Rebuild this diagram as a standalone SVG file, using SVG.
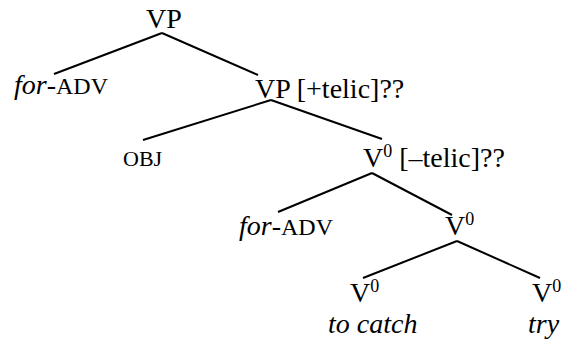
<svg xmlns="http://www.w3.org/2000/svg" width="563" height="347" viewBox="0 0 563 347">
<style>
text{font-family:"Liberation Serif","Times New Roman",serif;fill:#000;font-size:28px}
.sc{font-size:22px}
.adv{font-size:24px}
.it{font-style:italic}
.sup{font-size:18px}
#edges line{stroke:#000;stroke-width:2;stroke-linecap:butt}
</style>
<rect width="563" height="347" fill="#fff"/>
<g id="edges">
<line x1="162" y1="33" x2="54" y2="74"/>
<line x1="162" y1="33" x2="258" y2="75"/>
<line x1="271" y1="100" x2="143" y2="140"/>
<line x1="271" y1="100" x2="382" y2="139"/>
<line x1="372" y1="173" x2="278" y2="212"/>
<line x1="372" y1="173" x2="452" y2="215"/>
<line x1="457" y1="241" x2="363" y2="278"/>
<line x1="457" y1="241" x2="540" y2="278"/>
</g>
<g id="vp-top"><text x="146" y="28">VP</text></g>
<g id="foradv-1"><text x="14" y="94"><tspan class="it">for</tspan>-<tspan class="adv">ADV</tspan></text></g>
<g id="vp-telic"><text x="255" y="98">VP [+telic]??</text></g>
<g id="obj"><text class="sc" x="123" y="166">OBJ</text></g>
<g id="v0-telic"><text x="363" y="167">V<tspan class="sup" dy="-10">0</tspan><tspan dy="10"> [–telic]??</tspan></text></g>
<g id="foradv-2"><text x="239" y="235"><tspan class="it">for</tspan>-<tspan class="adv">ADV</tspan></text></g>
<g id="v0-mid"><text x="445" y="235">V<tspan class="sup" dy="-10">0</tspan></text></g>
<g id="v0-left"><text x="350" y="302">V<tspan class="sup" dy="-10">0</tspan></text></g>
<g id="v0-right"><text x="532" y="302">V<tspan class="sup" dy="-10">0</tspan></text></g>
<g id="to-catch"><text class="it" x="328" y="333">to catch</text></g>
<g id="try"><text class="it" x="528" y="333">try</text></g>
</svg>
